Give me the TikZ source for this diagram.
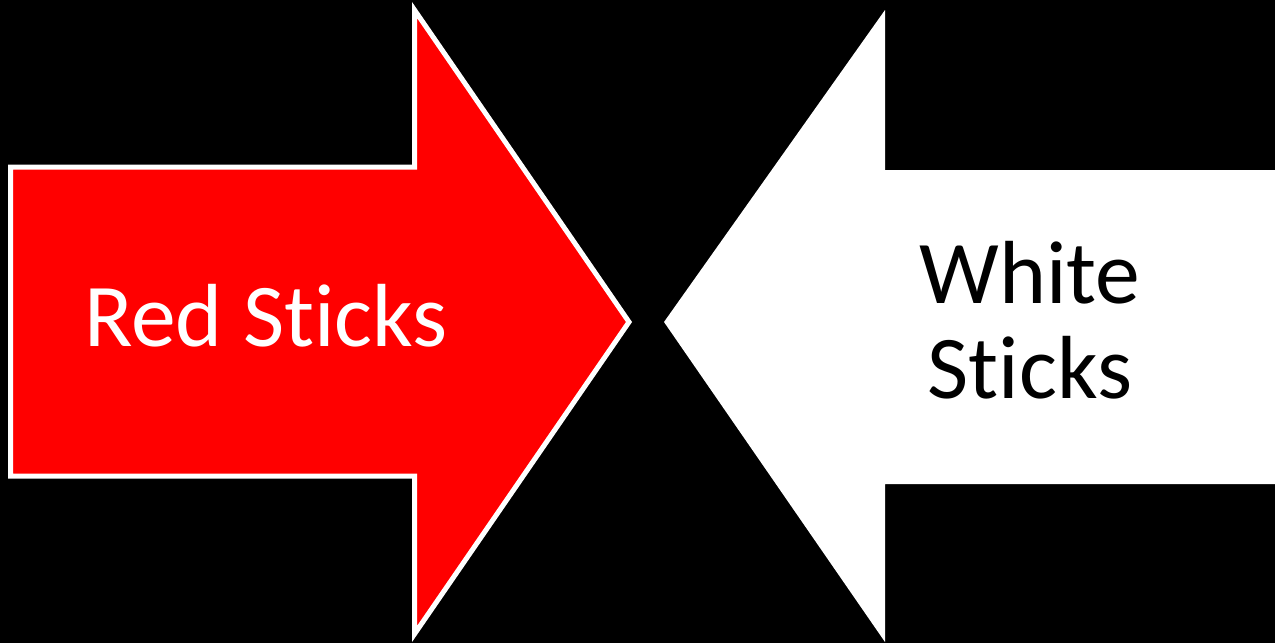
\documentclass[tikz,border=0pt]{standalone}
\usepackage{fontspec}
\setmainfont{Carlito}[Ligatures=NoCommon]
\usetikzlibrary{positioning}
\tikzset{
  redarrow/.style={fill=red,draw=white,line width=1mm,line join=miter},
  whitearrow/.style={fill=white},
  sticktext/.style={font=\fontsize{51}{54}\selectfont,align=center,inner sep=0pt},
}
\begin{document}
\begin{tikzpicture}[x=0.2mm,y=-0.2mm]
% background
\fill[black] (0,0) rectangle (1275,643);
\useasboundingbox (0,0) rectangle (1275,643);
% red arrow, pointing right
\draw[redarrow] (10.5,167) -- (414.5,167) -- (414.5,10) -- (629,322)
  -- (414.5,634) -- (414.5,476) -- (10.5,476) -- cycle;
% white arrow, pointing left
\fill[whitearrow] (1275,170) -- (885,170) -- (885,10) -- (664,322)
  -- (885,642) -- (885,484) -- (1275,484) -- cycle;
% labels
\node[sticktext,text=white,anchor=base] (redtxt) at (266,346) {Red Sticks};
\node[sticktext,text=black] (whitetxt) at (1030,320) {White\\Sticks};
\end{tikzpicture}
\end{document}
